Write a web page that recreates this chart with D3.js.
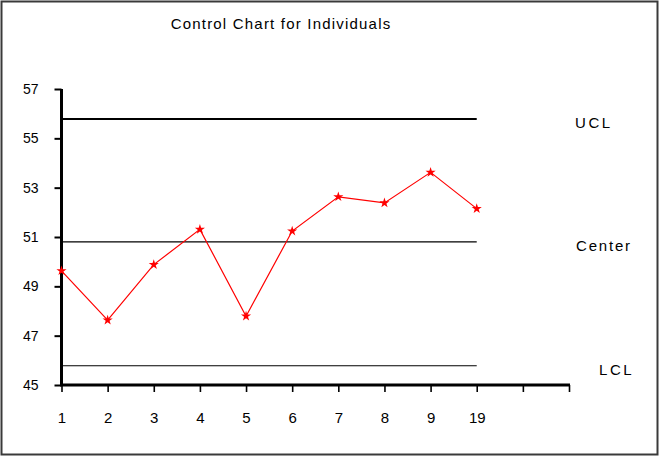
<!DOCTYPE html>
<html>
<head>
<meta charset="utf-8">
<script src="https://cdn.jsdelivr.net/npm/d3@7"></script>
<style>
  body { margin: 0; background: #fff; }
  text { font-family: Arial, "Liberation Sans", sans-serif; fill: #000; }
</style>
</head>
<body>
<svg id="chart" width="661" height="460"></svg>
<script>
// chart data
var categories = [ '1', '2', '3', '4', '5', '6', '7', '8', '9', '19' ];
var values     = [ 49.63, 47.63, 49.88, 51.31, 47.79, 51.24, 52.63, 52.38, 53.62, 52.15 ];
var yTicks     = [ 45, 47, 49, 51, 53, 55, 57 ];
var limitNames  = [ 'UCL', 'Center', 'LCL' ];
var limitValues = [ 55.78, 50.80, 45.78 ];
var slotCount  = 12; // axis has two empty slots after the last point

var svg = d3.select( '#chart' );

// frame
svg.append( 'rect' )
   .attr( 'x', 1.5 ).attr( 'y', 1.5 )
   .attr( 'width', 656 ).attr( 'height', 453 )
   .attr( 'fill', '#fff' )
   .attr( 'stroke', '#3a3a3a' )
   .attr( 'stroke-width', 2 );

var xScale = d3.scaleLinear()
               .domain( [ 0, slotCount - 1 ] )
               .range( [ 61.5, 569 ] );

var yScale = d3.scaleLinear()
               .domain( [ 45, 57 ] )
               .range( [ 385, 89 ] );

// title
svg.append( 'text' )
   .attr( 'x', 281 ).attr( 'y', 29 )
   .attr( 'text-anchor', 'middle' )
   .style( 'font-size', '15px' )
   .style( 'letter-spacing', '1.2px' )
   .text( 'Control Chart for Individuals' );

// limit lines
var lastX = xScale( categories.length - 1 );
svg.selectAll( '.limit' )
   .data( limitValues )
   .enter()
   .append( 'line' )
   .attr( 'x1', xScale( 0 ) )
   .attr( 'x2', lastX )
   .attr( 'y1', function( d ) { return yScale( d ); } )
   .attr( 'y2', function( d ) { return yScale( d ); } )
   .attr( 'stroke', '#000' )
   .attr( 'stroke-width', function( d, i ) { return i === 0 ? 2 : 1.2; } );

var labelX = [ 575, 576, 599 ];
svg.selectAll( '.limitLabel' )
   .data( limitNames )
   .enter()
   .append( 'text' )
   .attr( 'x', function( d, i ) { return labelX[ i ]; } )
   .attr( 'y', function( d, i ) { return yScale( limitValues[ i ] ) + 9; } )
   .style( 'font-size', '15px' )
   .style( 'letter-spacing', function( d ) { return d === 'Center' ? '1.8px' : '2.6px'; } )
   .text( function( d ) { return d; } );

// y axis
var yAxis = d3.axisLeft( yScale )
              .tickValues( yTicks )
              .tickSize( 7 )
              .tickPadding( 16 )
              .tickFormat( d3.format( 'd' ) );

var gy = svg.append( 'g' )
            .attr( 'transform', 'translate(' + xScale( 0 ) + ',0)' )
            .call( yAxis );
gy.select( '.domain' ).remove();
gy.selectAll( '.tick line' ).attr( 'stroke', '#000' ).attr( 'stroke-width', 2 );
gy.selectAll( '.tick text' ).style( 'font-size', '14px' ).attr( 'fill', '#000' );
gy.append( 'line' )
  .attr( 'x1', 0 ).attr( 'x2', 0 )
  .attr( 'y1', yScale( 57 ) ).attr( 'y2', yScale( 45 ) + 1 )
  .attr( 'stroke', '#000' ).attr( 'stroke-width', 3 );

// x axis
var xAxis = d3.axisBottom( xScale )
              .tickValues( d3.range( slotCount ) )
              .tickSize( 7 )
              .tickPadding( 20 )
              .tickFormat( function( d ) { return categories[ d ] || ''; } );

var gx = svg.append( 'g' )
            .attr( 'transform', 'translate(0,' + yScale( 45 ) + ')' )
            .call( xAxis );
gx.select( '.domain' ).remove();
gx.selectAll( '.tick line' ).attr( 'stroke', '#000' ).attr( 'stroke-width', 1.6 );
gx.selectAll( '.tick text' ).style( 'font-size', '15px' ).attr( 'fill', '#000' );
gx.append( 'line' )
  .attr( 'x1', xScale( 0 ) - 1.5 ).attr( 'x2', xScale( slotCount - 1 ) + 1 )
  .attr( 'y1', 0 ).attr( 'y2', 0 )
  .attr( 'stroke', '#000' ).attr( 'stroke-width', 3 );

// series line
var line = d3.line()
             .x( function( d, i ) { return xScale( i ); } )
             .y( function( d ) { return yScale( d ); } );

svg.append( 'path' )
   .datum( values )
   .attr( 'd', line )
   .attr( 'fill', 'none' )
   .attr( 'stroke', '#ff0000' )
   .attr( 'stroke-width', 1.2 );

svg.selectAll( '.pt' )
   .data( values )
   .enter()
   .append( 'path' )
   .attr( 'd', d3.symbol().type( d3.symbolStar ).size( 32 ) )
   .attr( 'transform', function( d, i ) {
       return 'translate(' + xScale( i ) + ',' + yScale( d ) + ')';
   })
   .attr( 'fill', '#ff0000' );
</script>
</body>
</html>
